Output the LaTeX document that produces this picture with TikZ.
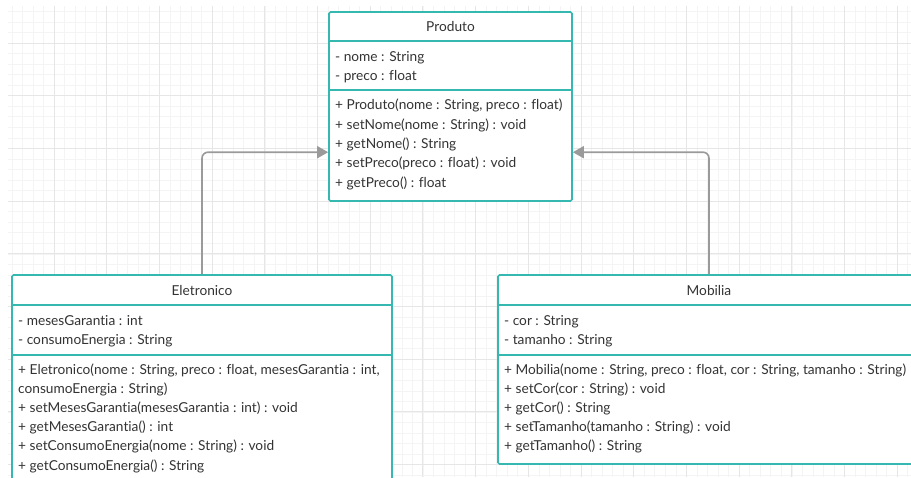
\documentclass[tikz,border=0pt]{standalone}
\usepackage{fontspec}
\setmainfont{Lato}[Ligatures=NoCommon]
\usetikzlibrary{arrows.meta,calc}
\definecolor{umlteal}{HTML}{35B8B0}
\definecolor{umltext}{HTML}{333333}
\definecolor{linkgray}{HTML}{9A9A9A}
\definecolor{gridmajor}{HTML}{E6E6E6}
\definecolor{gridminor}{HTML}{F4F4F4}
\tikzset{
  classbox/.style={draw=umlteal, line width=1.6pt, fill=white, rounded corners=1.5pt, inner sep=0pt},
  rule/.style={draw=umlteal, line width=1.6pt},
  member/.style={anchor=base west, inner sep=0pt, text=umltext, font=\fontsize{13.7}{16}\selectfont},
  classname/.style={member, anchor=base},
  inherit/.style={draw=linkgray, line width=1.6pt, rounded corners=6pt, -{Triangle[length=11pt,width=12pt]}},
  minorline/.style={draw=gridminor, line width=0.6pt},
  majorline/.style={draw=gridmajor, line width=0.9pt},
}
\begin{document}
\begin{tikzpicture}[x=1pt,y=-1pt]
\useasboundingbox (0,0) rectangle (911,477);
\clip (0,0) rectangle (911,477);
\fill[white] (0,0) rectangle (911,477);

% background grid
\begin{scope}
  \clip (8,6) rectangle (911,477);
  \foreach \i in {0,...,86} { \draw[minorline] ({1.3+10.54*\i},0) -- ++(0,477); }
  \foreach \j in {0,...,46} { \draw[minorline] (0,{0.84+10.54*\j}) -- ++(911,0); }
  \foreach \i in {0,...,17} { \draw[majorline] ({1.3+52.7*\i},0) -- ++(0,477); }
  \foreach \j in {0,...,9}  { \draw[majorline] (0,{-9.7+52.7*\j}) -- ++(911,0); }
\end{scope}

% class frames
\node[classbox, minimum width=243, minimum height=189] (produto) at (450.5,106.5) {};
\node[classbox, minimum width=380, minimum height=225] (eletronico) at (202,387.5) {};
\node[classbox, minimum width=422, minimum height=189] (mobilia) at (709,369.5) {};

% inheritance links
\draw[inherit] (eletronico.north) |- ($(produto.north west)+(0,141)$);
\draw[inherit] (mobilia.north) |- ($(produto.north east)+(0,141)$);

% compartment rules
\draw[rule] ($(produto.north west)+(0,30)$) -- ($(produto.north east)+(0,30)$);
\draw[rule] ($(produto.north west)+(0,79)$) -- ($(produto.north east)+(0,79)$);
\draw[rule] ($(eletronico.north west)+(0,31)$) -- ($(eletronico.north east)+(0,31)$);
\draw[rule] ($(eletronico.north west)+(0,81)$) -- ($(eletronico.north east)+(0,81)$);
\draw[rule] ($(mobilia.north west)+(0,31)$) -- ($(mobilia.north east)+(0,31)$);
\draw[rule] ($(mobilia.north west)+(0,81)$) -- ($(mobilia.north east)+(0,81)$);

% Produto
\node[classname] (p-name) at (450.5,31.8) {Produto};
\node[member] (p-a1) at (335,61.8) {- nome : String};
\node[member] (p-a2) at (335,80.8) {- preco : float};
\node[member] (p-m1) at (335,109.8) {+ Produto(nome : String, preco : float)};
\node[member] (p-m2) at (335,129.3) {+ setNome(nome : String) : void};
\node[member] (p-m3) at (335,148.8) {+ getNome() : String};
\node[member] (p-m4) at (335,167.8) {+ setPreco(preco : float) : void};
\node[member] (p-m5) at (335,187.8) {+ getPreco() : float};

% Eletronico
\node[classname] (e-name) at (202,295.8) {Eletronico};
\node[member] (e-a1) at (18,325.8) {- mesesGarantia : int};
\node[member] (e-a2) at (18,344.8) {- consumoEnergia : String};
\node[member] (e-m1) at (18,374.8) {+ Eletronico(nome : String, preco : float, mesesGarantia : int,};
\node[member] (e-m1b) at (18,393.8) {consumoEnergia : String)};
\node[member] (e-m2) at (18,412.8) {+ setMesesGarantia(mesesGarantia : int) : void};
\node[member] (e-m3) at (18,431.8) {+ getMesesGarantia() : int};
\node[member] (e-m4) at (18,450.8) {+ setConsumoEnergia(nome : String) : void};
\node[member] (e-m5) at (18,470.8) {+ getConsumoEnergia() : String};

% Mobilia
\node[classname] (m-name) at (709,295.8) {Mobilia};
\node[member] (m-a1) at (504,325.8) {- cor : String};
\node[member] (m-a2) at (504,344.8) {- tamanho : String};
\node[member] (m-m1) at (504,374.8) {+ Mobilia(nome : String, preco : float, cor : String, tamanho : String)};
\node[member] (m-m2) at (504,393.8) {+ setCor(cor : String) : void};
\node[member] (m-m3) at (504,412.8) {+ getCor() : String};
\node[member] (m-m4) at (504,431.8) {+ setTamanho(tamanho : String) : void};
\node[member] (m-m5) at (504,450.8) {+ getTamanho() : String};
\end{tikzpicture}
\end{document}
